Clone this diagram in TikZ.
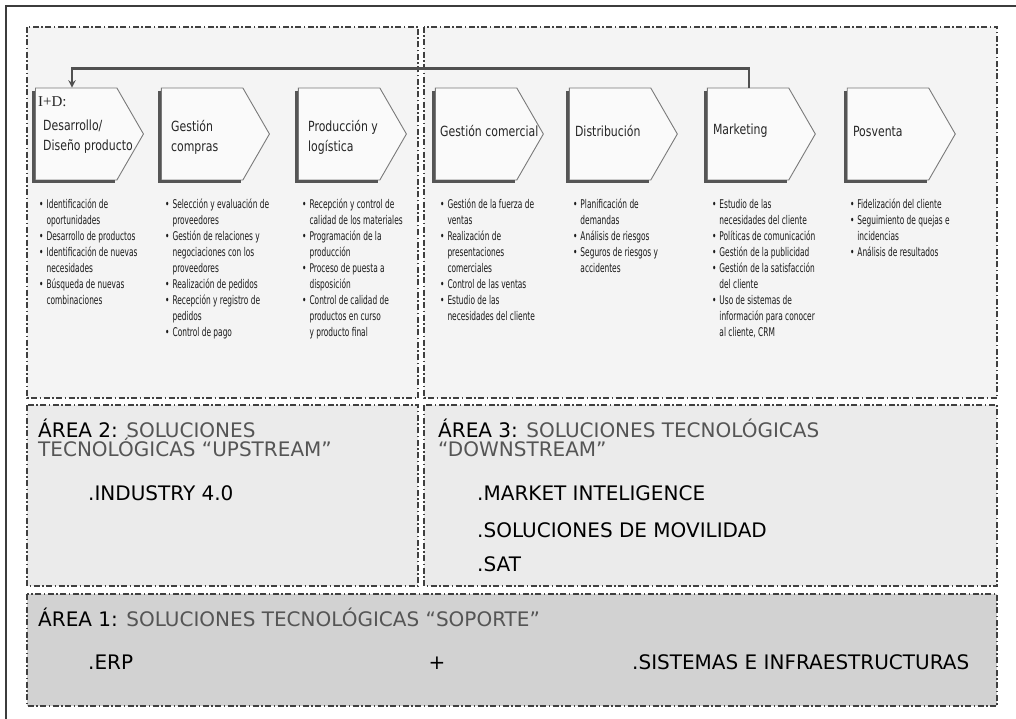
\documentclass[tikz,border=0pt]{standalone}
\usepackage{fontspec}
\setmainfont{DejaVu Sans}
\newfontfamily\chevfont[FakeStretch=0.78]{DejaVu Sans}
\newfontfamily\listfont[FakeStretch=0.62]{DejaVu Sans}
\newfontfamily\idfont{Liberation Serif}
\usetikzlibrary{positioning, shapes.symbols, arrows, calc}

\definecolor{framegray}{HTML}{3C3C3C}
\definecolor{zoneline}{HTML}{404040}
\definecolor{topfill}{HTML}{F4F4F4}
\definecolor{areafill}{HTML}{EBEBEB}
\definecolor{basefill}{HTML}{D2D2D2}
\definecolor{chevline}{HTML}{7A7A7A}
\definecolor{chevfill}{HTML}{FAFAFA}
\definecolor{chevshade}{HTML}{555555}
\definecolor{linkgray}{HTML}{505050}
\definecolor{labelgray}{HTML}{555555}
\definecolor{listtext}{HTML}{1A1A1A}

\newcommand{\itemlist}[1]{\begin{tabular}{@{}l@{\hspace{3pt}}l@{}}#1\end{tabular}}

\begin{document}
\begin{tikzpicture}[x=1pt, y=-1pt,
    zone/.style={draw=zoneline, line width=1.5pt, dash pattern=on 6pt off 2.5pt on 1.5pt off 2.5pt},
    chev/.style={signal, signal to=east, signal pointer angle=120, draw=chevline, line width=0.9pt, fill=chevfill, minimum width=108pt, minimum height=92pt, inner sep=0pt},
    chevshadow/.style={draw=chevshade, line width=3pt},
    chevlabel/.style={font=\chevfont\fontsize{14}{20}\selectfont, align=left, inner sep=0pt, anchor=west, text=black!85},
    itemlist/.style={font=\listfont\fontsize{12}{16}\selectfont, text=listtext, inner sep=0pt, anchor=north west},
    areatext/.style={font=\fontsize{20}{20}\selectfont, inner sep=0pt, anchor=base west, text=labelgray},
    link/.style={draw=linkgray, line width=2.2pt, >=stealth}]
    \useasboundingbox (0,0) rectangle (1016,719);
    \fill[white] (0,0) rectangle (1016,719);
    % page frame
    \draw[framegray, line width=2pt] (6,719) -- (6,6) -- (1016,6);
    % zones
    \draw[zone, fill=topfill] (27,27) rectangle (418,398);
    \draw[zone, fill=topfill] (424,27) rectangle (997,398);
    \draw[zone, fill=areafill] (27,405) rectangle (418,586);
    \draw[zone, fill=areafill] (424,405) rectangle (997,586);
    \draw[zone, fill=basefill] (27,594) rectangle (997,706);
    % value chain
    \node[chev, anchor=west] (ch1) at (35,134) {};
    \node[chev, right=17pt of ch1] (ch2) {};
    \node[chev, right=28pt of ch2] (ch3) {};
    \node[chev, right=28pt of ch3] (ch4) {};
    \node[chev, right=25pt of ch4] (ch5) {};
    \node[chev, right=29pt of ch5] (ch6) {};
    \node[chev, right=31pt of ch6] (ch7) {};
    % shadow on left and bottom edges
    \foreach \c in {ch1,ch2,ch3,ch4,ch5,ch6,ch7}
        \draw[chevshadow] ($(\c.west |- \c.north)+(-1.5,3)$) -- ($(\c.west |- \c.south)+(-1.5,1.5)$) -- ($(\c.west |- \c.south)+(80,1.5)$);
    \node[chevlabel, font=\idfont\fontsize{15}{18}\selectfont] (id) at ([xshift=3pt, yshift=32pt]ch1.west) {I+D:};
    \node[chevlabel] (t1) at ([xshift=8pt, yshift=-3pt]ch1.west) {Desarrollo/\\Diseño producto};
    \node[chevlabel] (t2) at ([xshift=10pt, yshift=-3pt]ch2.west) {Gestión\\compras};
    \node[chevlabel] (t3) at ([xshift=10pt, yshift=-3pt]ch3.west) {Producción y\\logística};
    \node[chevlabel] (t4) at ([xshift=5pt, yshift=3pt]ch4.west) {Gestión comercial};
    \node[chevlabel] (t5) at ([xshift=6pt, yshift=3pt]ch5.west) {Distribución};
    \node[chevlabel] (t6) at ([xshift=6pt, yshift=3pt]ch6.west) {Marketing};
    \node[chevlabel] (t7) at ([xshift=6pt, yshift=3pt]ch7.west) {Posventa};
    % feedback link
    \draw[link, <-] ($(ch1.west |- ch1.north)+(37,0)$) -- ++(0,-19) -| ($(ch6.west |- ch6.north)+(42,0)$);
    % activities
    \node[itemlist] (l1) at ($(ch1.west |- ch1.south)+(4,17)$) {\itemlist{%
        \textbullet & Identificación de\\ & oportunidades\\
        \textbullet & Desarrollo de productos\\
        \textbullet & Identificación de nuevas\\ & necesidades\\
        \textbullet & Búsqueda de nuevas\\ & combinaciones}};
    \node[itemlist] (l2) at ($(ch2.west |- ch2.south)+(4,17)$) {\itemlist{%
        \textbullet & Selección y evaluación de\\ & proveedores\\
        \textbullet & Gestión de relaciones y\\ & negociaciones con los\\ & proveedores\\
        \textbullet & Realización de pedidos\\
        \textbullet & Recepción y registro de\\ & pedidos\\
        \textbullet & Control de pago}};
    \node[itemlist] (l3) at ($(ch3.west |- ch3.south)+(4,17)$) {\itemlist{%
        \textbullet & Recepción y control de\\ & calidad de los materiales\\
        \textbullet & Programación de la\\ & producción\\
        \textbullet & Proceso de puesta a\\ & disposición\\
        \textbullet & Control de calidad de\\ & productos en curso\\ & y producto final}};
    \node[itemlist] (l4) at ($(ch4.west |- ch4.south)+(5,17)$) {\itemlist{%
        \textbullet & Gestión de la fuerza de\\ & ventas\\
        \textbullet & Realización de\\ & presentaciones\\ & comerciales\\
        \textbullet & Control de las ventas\\
        \textbullet & Estudio de las\\ & necesidades del cliente}};
    \node[itemlist] (l5) at ($(ch5.west |- ch5.south)+(4,17)$) {\itemlist{%
        \textbullet & Planificación de\\ & demandas\\
        \textbullet & Análisis de riesgos\\
        \textbullet & Seguros de riesgos y\\ & accidentes}};
    \node[itemlist] (l6) at ($(ch6.west |- ch6.south)+(5,17)$) {\itemlist{%
        \textbullet & Estudio de las\\ & necesidades del cliente\\
        \textbullet & Políticas de comunicación\\
        \textbullet & Gestión de la publicidad\\
        \textbullet & Gestión de la satisfacción\\ & del cliente\\
        \textbullet & Uso de sistemas de\\ & información para conocer\\ & al cliente, CRM}};
    \node[itemlist] (l7) at ($(ch7.west |- ch7.south)+(3,17)$) {\itemlist{%
        \textbullet & Fidelización del cliente\\
        \textbullet & Seguimiento de quejas e\\ & incidencias\\
        \textbullet & Análisis de resultados}};
    % area 2
    \node[areatext] (a2a) at (38,437) {\textcolor{black}{ÁREA 2:} SOLUCIONES};
    \node[areatext] (a2b) at (38,456) {TECNOLÓGICAS “UPSTREAM”};
    \node[areatext, text=black] (a2i) at (88,500) {.INDUSTRY 4.0};
    % area 3
    \node[areatext] (a3a) at (438,437) {\textcolor{black}{ÁREA 3:} SOLUCIONES TECNOLÓGICAS};
    \node[areatext] (a3b) at (438,456) {“DOWNSTREAM”};
    \node[areatext, text=black] (a3i) at (477,500) {.MARKET INTELIGENCE};
    \node[areatext, text=black] (a3j) at (477,537) {.SOLUCIONES DE MOVILIDAD};
    \node[areatext, text=black] (a3k) at (477,571) {.SAT};
    % area 1
    \node[areatext] (a1a) at (38,626) {\textcolor{black}{ÁREA 1:} SOLUCIONES TECNOLÓGICAS “SOPORTE”};
    \node[areatext, text=black] (a1i) at (88,669) {.ERP};
    \node[areatext, text=black, anchor=base] (plus) at (437,669) {+};
    \node[areatext, text=black] (a1j) at (632,669) {.SISTEMAS E INFRAESTRUCTURAS};
\end{tikzpicture}
\end{document}
